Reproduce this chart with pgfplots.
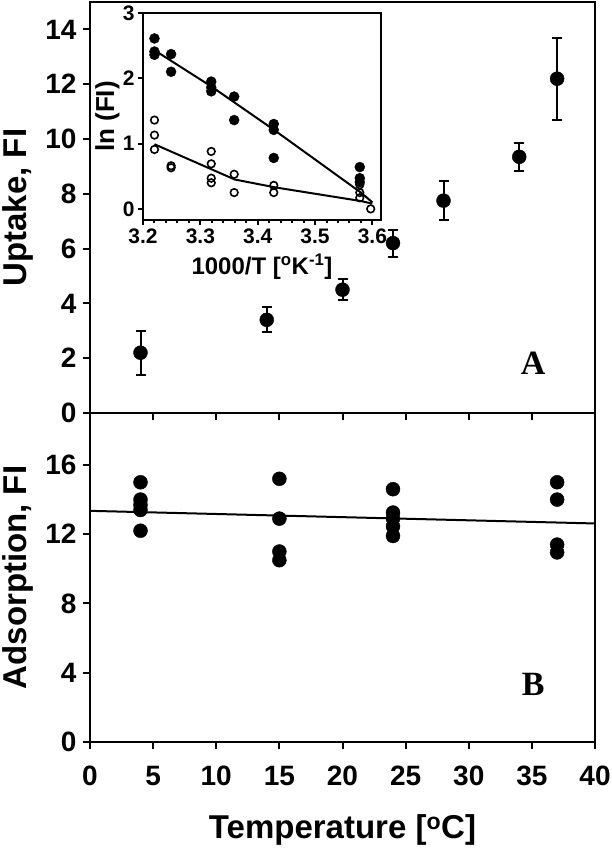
\documentclass[border=0pt]{standalone}
\usepackage{fontspec}
\setmainfont{Liberation Sans}
\newfontfamily\timesfont{Liberation Serif}
\usepackage{pgfplots}
\pgfplotsset{compat=1.18}
\begin{document}
\begin{tikzpicture}
\pgfplotsset{
  every axis/.append style={
    scale only axis,
    axis line style={line width=2pt},
    tick style={line width=2pt, black},
    tick align=outside,
    major tick length=7pt,
    xtick pos=bottom, ytick pos=left,
    /pgf/number format/assume math mode=true,
    tick label style={font=\bfseries\fontsize{28}{28}\selectfont},
    label style={font=\bfseries\fontsize{33}{33}\selectfont},
  }
}
% ---------- Panel B ----------
\begin{axis}[name=B, at={(0pt,0pt)}, anchor=south west,
  width=505pt, height=329pt,
  xmin=0, xmax=40, ymin=0, ymax=19,
  xtick={0,5,...,40}, ytick={0,4,8,12,16},
  xticklabel style={text height=20pt, text depth=0pt, yshift=-13pt},
  yticklabel style={xshift=-3pt},
  xlabel={Temperature [\textsuperscript{o}C]},
  xlabel style={at={(axis description cs:0.5,0)}, anchor=center, yshift=-88pt},
  ylabel={Adsorption, FI},
  ylabel style={at={(axis description cs:-0.142,0.5)}, anchor=center}]
\addplot[only marks, mark=*, mark size=7pt, black] coordinates {
 (4,15.0) (4,14.0) (4,13.7) (4,13.4) (4,12.2)
 (15,15.2) (15,12.9) (15,11.0) (15,10.5)
 (24,14.6) (24,13.25) (24,12.9) (24,12.45) (24,11.9)
 (37,15.0) (37,14.0) (37,11.4) (37,10.95)
};
\addplot[line width=2pt, black] coordinates {(0,13.35) (40,12.62)};
\node[font=\timesfont\bfseries\fontsize{34}{34}\selectfont] at (axis cs:35.1,3.3) {B};
\end{axis}
% ---------- Panel A ----------
\begin{axis}[name=A, at={(0pt,329pt)}, anchor=south west,
  width=505pt, height=411pt,
  xmin=0, xmax=40, ymin=0, ymax=15,
  xtick={0,5,...,40}, xticklabels={},
  ytick={0,2,...,14},
  yticklabel style={xshift=-3pt},
  ylabel={Uptake, FI},
  ylabel style={at={(axis description cs:-0.142,0.5)}, anchor=center}]
\addplot[only marks, mark=*, mark size=7pt, black,
  error bars/.cd, y dir=both, y explicit,
  error bar style={line width=2pt, black},
  error mark options={rotate=90, mark size=5pt, line width=2pt, black}]
 coordinates {
 (4,2.2) +- (0,0.8)
 (14,3.4) +- (0,0.46)
 (20,4.5) +- (0,0.38)
 (24,6.2) +- (0,0.49)
 (28,7.75) +- (0,0.7)
 (34,9.35) +- (0,0.5)
 (37,12.2) +- (0,1.5)
};
\node[font=\timesfont\bfseries\fontsize{34}{34}\selectfont] at (axis cs:35.1,1.82) {A};
\end{axis}
% ---------- Inset ----------
\begin{axis}[at={(53pt,522pt)}, anchor=south west,
  width=238pt, height=207pt,
  axis background/.style={fill=white},
  xmin=3.2, xmax=3.615, ymin=-0.17, ymax=3,
  xtick={3.2,3.3,3.4,3.5,3.6}, ytick={0,1,2,3},
  minor x tick num=4,
  major tick length=5pt, minor tick length=3pt,
  xticklabel style={/pgf/number format/.cd, fixed, precision=1, fixed zerofill},
  tick label style={font=\bfseries\fontsize{21}{21}\selectfont},
  label style={font=\bfseries\fontsize{24}{24}\selectfont},
  xlabel={1000/T [\textsuperscript{o}K\textsuperscript{-1}]},
  xlabel style={at={(axis description cs:0.5,0)}, anchor=center, yshift=-47pt},
  ylabel={ln (FI)},
  ylabel style={at={(axis description cs:-0.15,0.5)}, anchor=center, font=\bfseries\fontsize{26}{26}\selectfont}]
\addplot[line width=2pt, black] coordinates {(3.22,2.43) (3.32,1.87) (3.43,1.2) (3.58,0.25) (3.6,0.1)};
\addplot[line width=2pt, black] coordinates {(3.22,0.99) (3.36,0.45) (3.43,0.33) (3.58,0.12) (3.6,0.08)};
\addplot[only marks, mark=*, mark size=5pt, black] coordinates {
 (3.22,2.61) (3.22,2.41) (3.22,2.36)
 (3.249,2.37) (3.249,2.10)
 (3.319,1.95) (3.319,1.86) (3.319,1.80)
 (3.359,1.72) (3.359,1.36)
 (3.428,1.30) (3.428,1.21) (3.428,0.78)
 (3.578,0.64) (3.578,0.47) (3.578,0.41)
};
\addplot[only marks, mark=o, mark size=3.8pt, line width=1.6pt, black, mark options={fill=white}] coordinates {
 (3.22,1.36) (3.22,1.13) (3.22,0.91)
 (3.249,0.66) (3.249,0.63)
 (3.319,0.88) (3.319,0.69) (3.319,0.47) (3.319,0.40)
 (3.359,0.53) (3.359,0.25)
 (3.428,0.36) (3.428,0.25)
 (3.578,0.37) (3.578,0.25) (3.578,0.17)
 (3.597,0.0)
};
\end{axis}
\pgfresetboundingbox
\path[use as bounding box] (-90pt,-111pt) rectangle (521pt,742pt);
\end{tikzpicture}
\end{document}
